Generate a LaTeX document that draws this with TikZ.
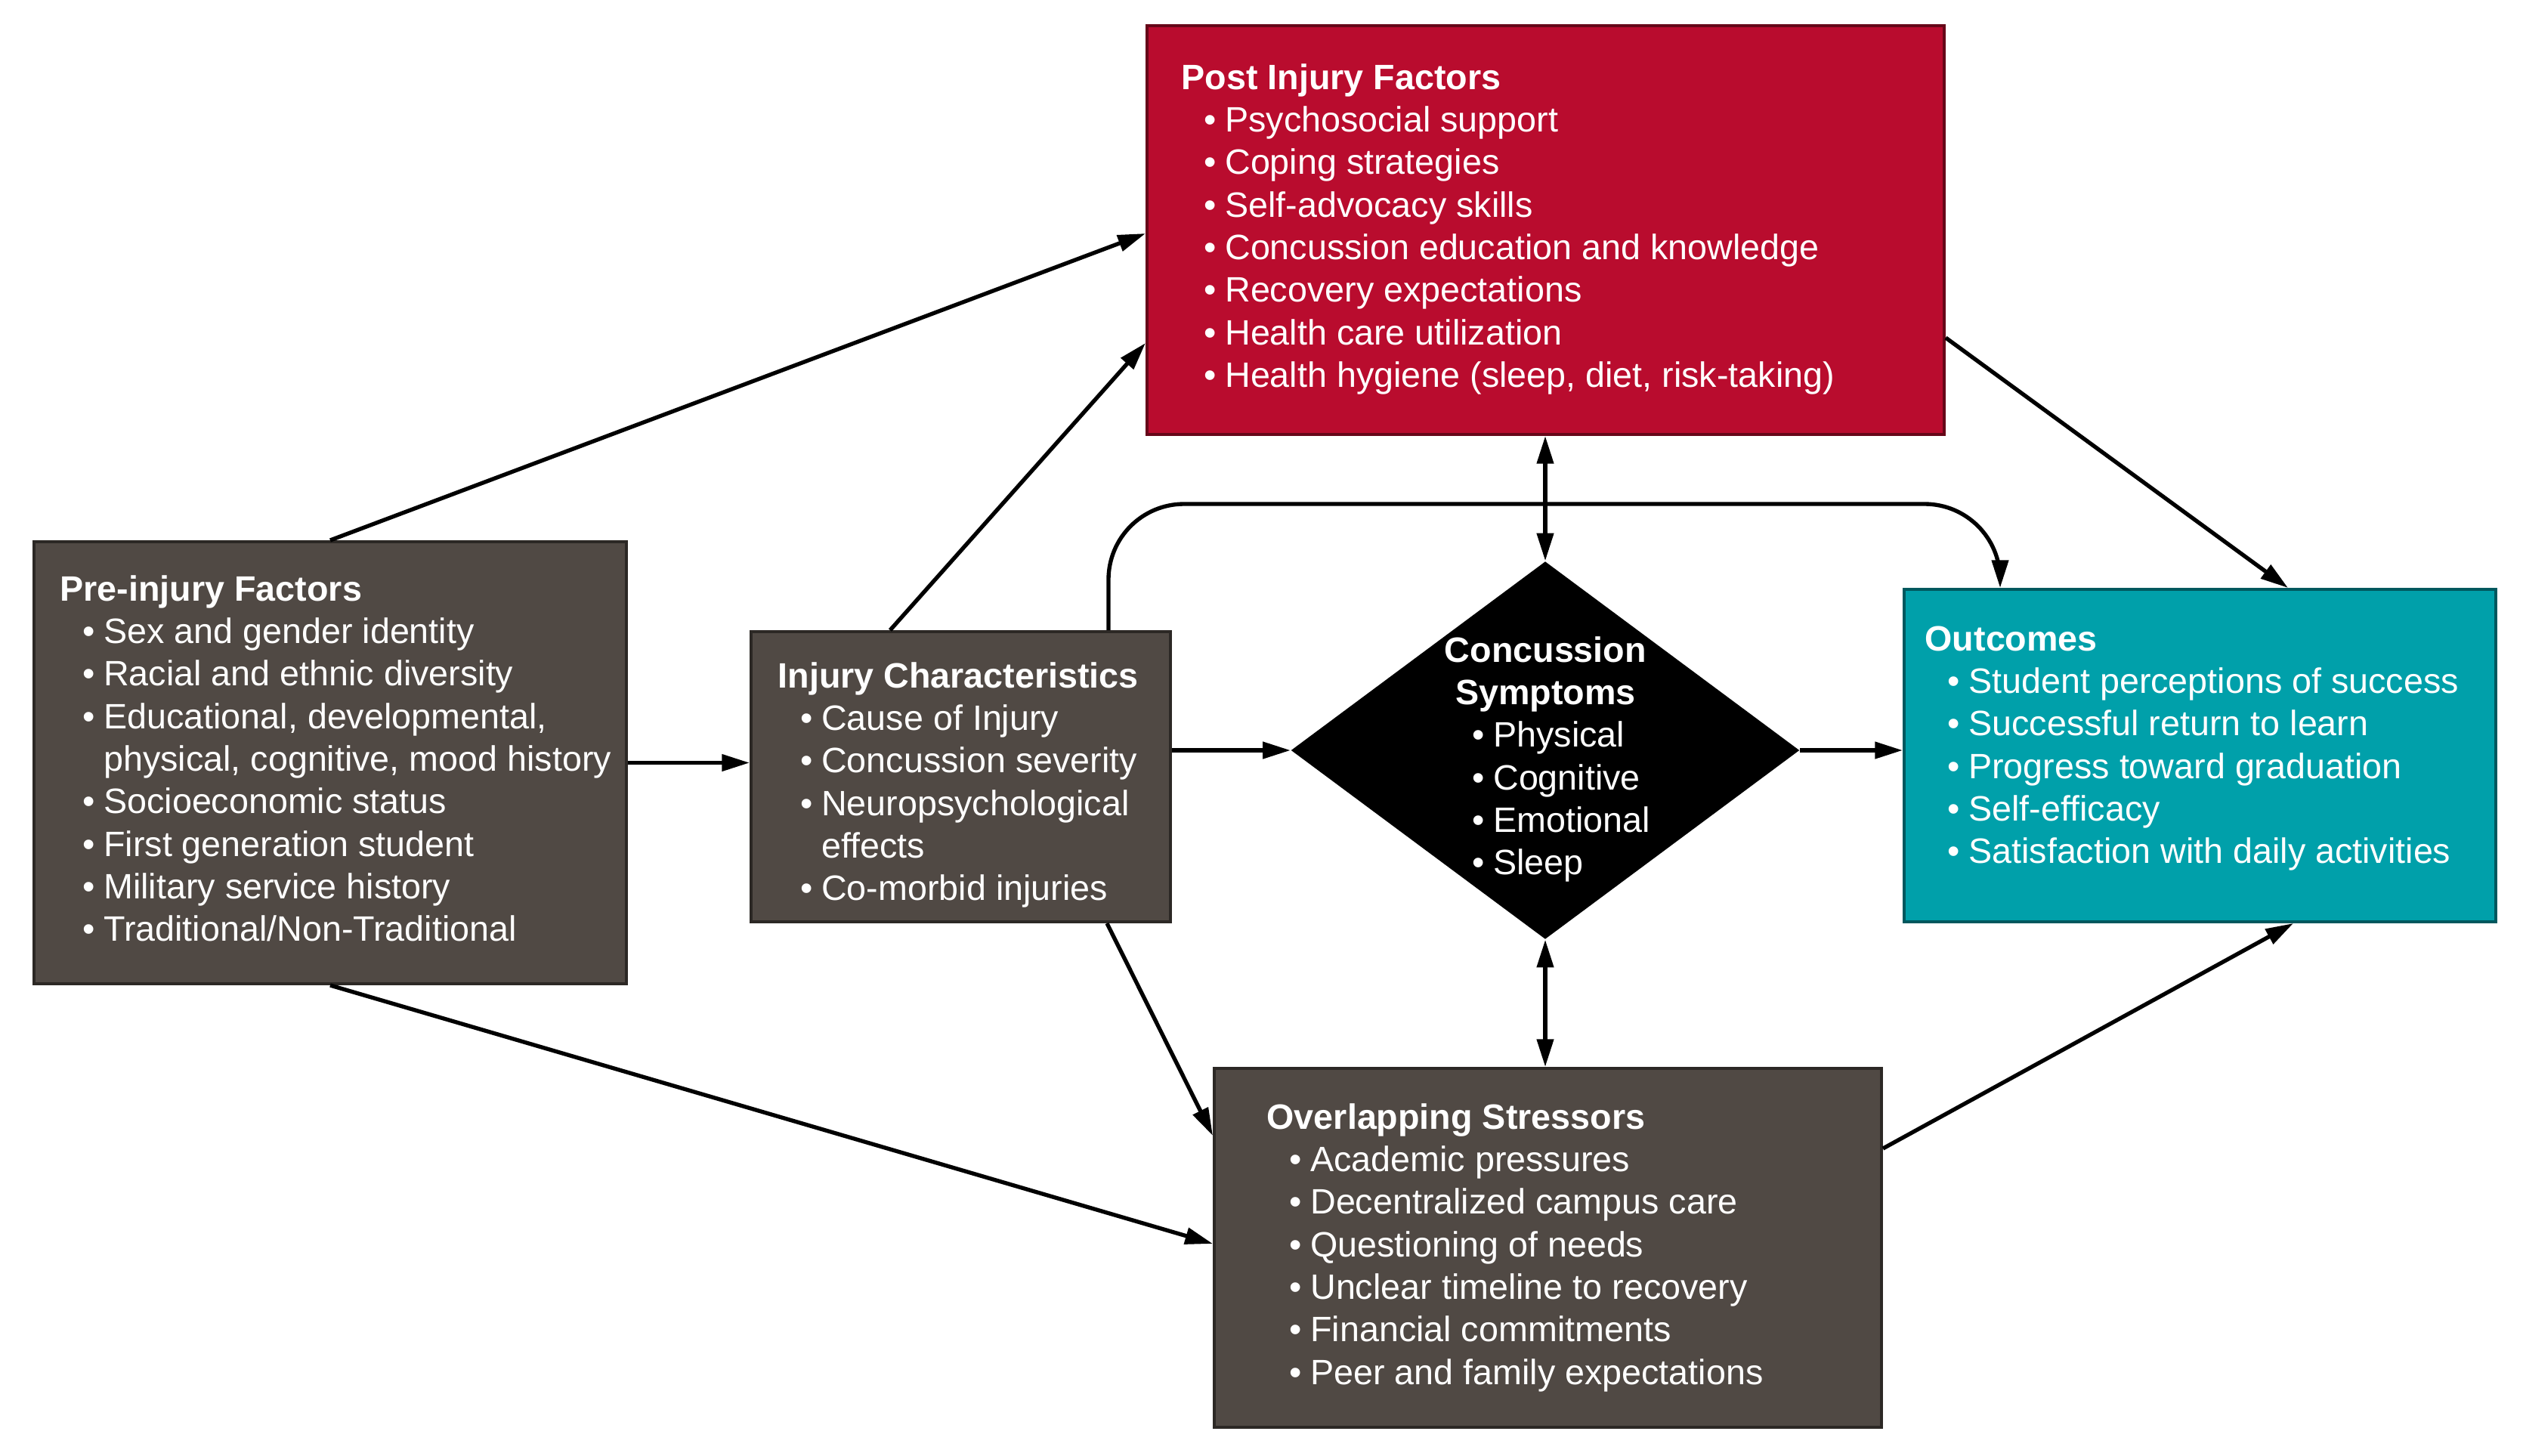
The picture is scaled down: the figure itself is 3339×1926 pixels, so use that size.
\documentclass[tikz,border=0pt]{standalone}
\usepackage{fontspec}
\setmainfont{Liberation Sans}
\usetikzlibrary{arrows.meta,shapes.geometric,calc}
\definecolor{boxgray}{RGB}{80,73,68}
\definecolor{boxred}{RGB}{185,12,46}
\definecolor{boxteal}{RGB}{0,160,170}
\newcommand{\bitem}[1]{\hspace*{9pt}\makebox[8.3pt][l]{•}#1}
\newcommand{\bcont}[1]{\hspace*{17.3pt}#1}
\begin{document}
\begin{tikzpicture}[x=0.3pt,y=-0.3pt,
  box/.style={draw=#1!55!black, fill=#1, line width=1.2pt, inner sep=0pt, rectangle},
  txt/.style={anchor=north west, inner sep=0pt, text=white, align=left, font=\fontsize{14}{16.9}\selectfont},
  arr/.style={line width=1.6pt, -{Triangle[length=11pt,width=6.5pt]}},
  darr/.style={line width=1.6pt, {Triangle[length=11pt,width=6.5pt]}-{Triangle[length=11pt,width=6.5pt]}}]
\useasboundingbox[fill=white] (0,0) rectangle (3339,1926);

\node[box=boxgray, minimum width=784*0.3pt, minimum height=585*0.3pt] (pre) at (437,1009.5) {};
\node[box=boxgray, minimum width=555*0.3pt, minimum height=384*0.3pt] (inj) at (1271.5,1028) {};
\node[box=boxred, minimum width=1055*0.3pt, minimum height=541*0.3pt] (post) at (2045.5,304.5) {};
\node[diamond, fill=black, inner sep=0pt, minimum width=673*0.3pt, minimum height=500*0.3pt] (dia) at (2045,993) {};
\node[box=boxteal, minimum width=783*0.3pt, minimum height=440*0.3pt] (out) at (2911.5,1000) {};
\node[box=boxgray, minimum width=883*0.3pt, minimum height=475*0.3pt] (ovl) at (2048.5,1651.5) {};

\node[txt] (pretxt) at (79,755) {\strut\textbf{Pre-injury Factors}\\
  \bitem{Sex and gender identity}\\
  \bitem{Racial and ethnic diversity}\\
  \bitem{Educational, developmental,}\\
  \bcont{physical, cognitive, mood history}\\
  \bitem{Socioeconomic status}\\
  \bitem{First generation student}\\
  \bitem{Military service history}\\
  \bitem{Traditional/Non-Traditional}};

\node[txt] (injtxt) at (1029,870) {\strut\textbf{Injury Characteristics}\\
  \bitem{Cause of Injury}\\
  \bitem{Concussion severity}\\
  \bitem{Neuropsychological}\\
  \bcont{effects}\\
  \bitem{Co-morbid injuries}};

\node[txt] (posttxt) at (1563,78) {\strut\textbf{Post Injury Factors}\\
  \bitem{Psychosocial support}\\
  \bitem{Coping strategies}\\
  \bitem{Self-advocacy skills}\\
  \bitem{Concussion education and knowledge}\\
  \bitem{Recovery expectations}\\
  \bitem{Health care utilization}\\
  \bitem{Health hygiene (sleep, diet, risk-taking)}};

\node[txt] (diatxt) at (1948,836) {\strut\makebox[58pt][c]{\textbf{Concussion}}\\
  \makebox[58pt][c]{\textbf{Symptoms}}\\
  \makebox[8.3pt][l]{•}Physical\\
  \makebox[8.3pt][l]{•}Cognitive\\
  \makebox[8.3pt][l]{•}Emotional\\
  \makebox[8.3pt][l]{•}Sleep};

\node[txt] (outtxt) at (2547,821) {\strut\textbf{Outcomes}\\
  \bitem{Student perceptions of success}\\
  \bitem{Successful return to learn}\\
  \bitem{Progress toward graduation}\\
  \bitem{Self-efficacy}\\
  \bitem{Satisfaction with daily activities}};

\node[txt] (ovltxt) at (1676,1454) {\strut\textbf{Overlapping Stressors}\\
  \bitem{Academic pressures}\\
  \bitem{Decentralized campus care}\\
  \bitem{Questioning of needs}\\
  \bitem{Unclear timeline to recovery}\\
  \bitem{Financial commitments}\\
  \bitem{Peer and family expectations}};

\draw[arr] (pre.north) -- (post.west |- 0,309);
\draw[arr] (inj.north -| 1178,0) -- (post.west |- 0,454);
\draw[arr] (pre.east) -- (inj.west |- pre.east);
\draw[arr] (inj.east |- dia.west) -- (dia.west);
\draw[arr] (dia.east) -- (out.west |- dia.east);
\draw[darr] (post.south -| dia.north) -- (dia.north);
\draw[darr] (dia.south) -- (ovl.north -| dia.south);
\draw[arr] (post.east |- 0,447) -- (out.north -| 3028,0);
\draw[arr] (ovl.east |- 0,1520) -- (out.south -| 3035,0);
\draw[arr] (pre.south) -- (ovl.west |- 0,1646);
\draw[arr] (inj.south -| 1465,0) -- (ovl.west |- 0,1503);
\draw[arr, rounded corners=30pt] (inj.north -| 1467,0) |- (2647,667) -- (out.north -| 2647,0);
\end{tikzpicture}
\end{document}
